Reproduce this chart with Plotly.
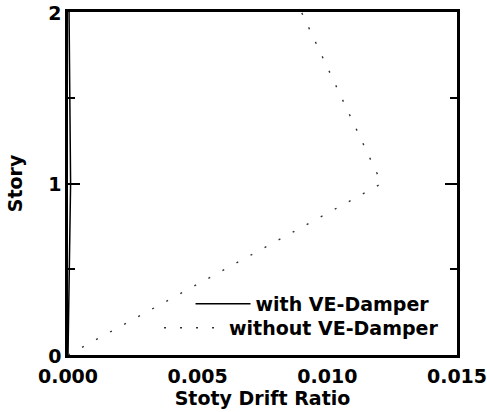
import plotly.graph_objects as go

# Data
story = [0, 1, 2]
drift_with = [0.0, 0.0001, 0.00004]
drift_without = [0.0, 0.0121, 0.0090]

x_ticks = [0.0, 0.005, 0.010, 0.015]
x_ticklabels = ["0.000", "0.005", "0.010", "0.015"]
y_ticks = [0, 1, 2]

FONT = "DejaVu Sans"
fig = go.Figure()
fig.add_trace(go.Scatter(x=drift_with, y=story, mode="lines", name="with VE-Damper",
                         line=dict(color="black", width=1.5), legend="legend",
                         showlegend=True))
fig.add_trace(go.Scatter(x=drift_without, y=story, mode="lines", name="without VE-Damper",
                         line=dict(color="#333333", width=1.4, dash="2px,14px"),
                         legend="legend2", showlegend=True))

fig.update_layout(
    width=487, height=412, autosize=False, showlegend=True,
    margin=dict(l=68, r=30, t=12, b=57),
    paper_bgcolor="white", plot_bgcolor="white",
    font=dict(family=FONT, size=19, color="black", weight="bold"),
    xaxis=dict(range=[0, 0.015], tickvals=x_ticks, ticktext=x_ticklabels, ticks="",
               showline=True, linecolor="black", linewidth=2.5, mirror=True,
               showgrid=False, zeroline=False, automargin=False,
               ticklabeloverflow="allow", ticklabelstandoff=2,
               title=dict(text="Stoty Drift Ratio", standoff=0,
                          font=dict(family=FONT, size=19, weight="bold")),
               tickfont=dict(family=FONT, size=19, weight="bold")),
    xaxis2=dict(range=[0, 0.015], overlaying="x", anchor="y", side="bottom",
                dtick=0.00375, tick0=0, ticks="inside", ticklen=9, tickwidth=2,
                tickcolor="black", mirror="allticks", showline=True, linecolor="black",
                linewidth=2.5, showticklabels=False, showgrid=False, zeroline=False,
                automargin=False,
                minor=dict(dtick=0.001875, tick0=0, ticks="inside", ticklen=5,
                           tickwidth=2, tickcolor="black")),
    yaxis=dict(range=[0, 2], tickvals=y_ticks, ticks="inside", ticklen=12, tickwidth=2,
               tickcolor="black", showline=True, linecolor="black", linewidth=2.5,
               mirror="allticks", showgrid=False, zeroline=False, automargin=False,
               ticklabeloverflow="allow", ticklabelshift=1,
               minor=dict(dtick=0.5, ticks="inside", ticklen=7, tickwidth=2, tickcolor="black"),
               title=dict(text="Story", standoff=21,
                          font=dict(family=FONT, size=19, weight="bold")),
               tickfont=dict(family=FONT, size=19, weight="bold")),
    legend=dict(x=0.315, y=0.149, xanchor="left", yanchor="middle",
                bgcolor="rgba(0,0,0,0)", borderwidth=0, itemwidth=55,
                font=dict(family=FONT, size=19, weight="bold")),
    legend2=dict(x=0.234, y=0.079, xanchor="left", yanchor="middle",
                 bgcolor="rgba(0,0,0,0)", borderwidth=0, itemwidth=60,
                 font=dict(family=FONT, size=19, weight="bold")),
)

# remove the browser's default 8px body margin so the figure fills the window
fig.write_html("out.html", config={"displayModeBar": False},
               post_script="document.body.style.margin='0px';document.body.style.overflow='hidden';")
